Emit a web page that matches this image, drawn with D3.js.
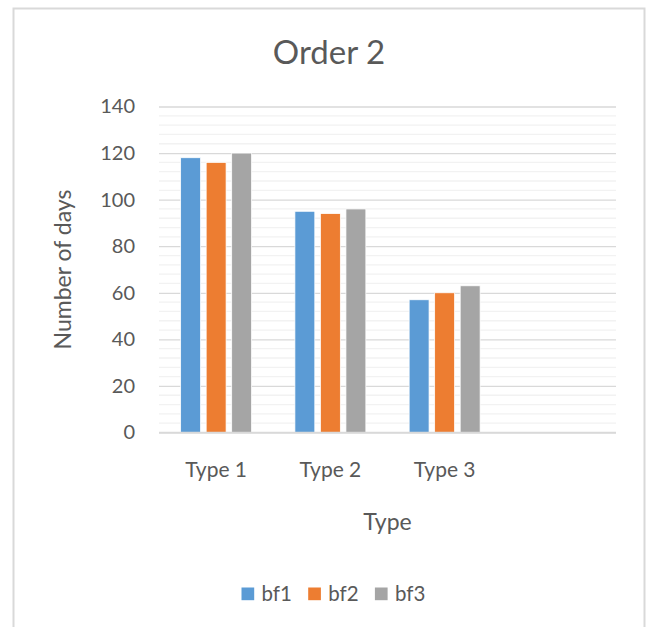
<!DOCTYPE html>
<html>
<head>
<meta charset="utf-8">
<script src="https://cdn.jsdelivr.net/npm/d3@7"></script>
<style>
  body { margin: 0; background: #fff; }
  text { font-family: Lato, "Open Sans", sans-serif; fill: #595959; }
</style>
</head>
<body>
<div id="chart"></div>
<script>
const categories = ['Type 1', 'Type 2', 'Type 3', ''];
const seriesNames = ['bf1', 'bf2', 'bf3'];
const bf1 = [118, 95, 57];
const bf2 = [116, 94, 60];
const bf3 = [120, 96, 63];
const yTicks = [0, 20, 40, 60, 80, 100, 120, 140];
const colors = ['#5b9bd5', '#ed7d31', '#a5a5a5'];

const width = 651, height = 627;
const margin = { left: 159, right: 35, top: 106.5, bottom: 194.5 };
const svg = d3.select('#chart').append('svg').attr('width', width).attr('height', height);

// chart border
svg.append('rect')
    .attr('x', 13.5).attr('y', 8.5)
    .attr('width', 631).attr('height', 640)
    .attr('fill', 'none').attr('stroke', '#d9d9d9').attr('stroke-width', 2);

const x0 = d3.scaleBand().domain(categories)
    .range([margin.left, width - margin.right])
    .paddingInner(0.379).paddingOuter(0.1895);
const x1 = d3.scaleBand().domain(seriesNames)
    .range([0, x0.bandwidth()]).paddingInner(0.22);
const y = d3.scaleLinear().domain([0, 140]).range([height - margin.bottom, margin.top]);

// minor gridlines
const minor = d3.range(0, 141, 4).filter(v => v % 20 !== 0);
svg.append('g').selectAll('line').data(minor).enter().append('line')
    .attr('x1', margin.left).attr('x2', width - margin.right)
    .attr('y1', d => y(d)).attr('y2', d => y(d))
    .attr('stroke', '#f2f2f2').attr('stroke-width', 1.3);

// major gridlines + y labels
const yAxis = d3.axisLeft(y).tickValues(yTicks).tickSize(-(width - margin.left - margin.right)).tickPadding(24);
const ya = svg.append('g').attr('transform', 'translate(' + margin.left + ',0)').call(yAxis);
ya.select('.domain').remove();
ya.selectAll('.tick line').attr('stroke', '#d9d9d9').attr('stroke-width', 1.3);
ya.selectAll('.tick text').attr('font-size', 20).style('font-family', 'Lato, sans-serif').attr('fill', '#595959');

const rows = categories.slice(0, 3).map((c, i) => ({ cat: c, values: [bf1[i], bf2[i], bf3[i]] }));

svg.append('g').selectAll('g').data(rows).enter().append('g')
    .attr('transform', d => 'translate(' + x0(d.cat) + ',0)')
    .selectAll('rect').data(d => d.values.map((v, k) => ({ key: seriesNames[k], v: v, k: k })))
    .enter().append('rect')
    .attr('x', d => x1(d.key))
    .attr('width', x1.bandwidth())
    .attr('y', d => y(d.v))
    .attr('height', d => y(0) - y(d.v))
    .attr('fill', d => colors[d.k])
    .attr('stroke', '#fff').attr('stroke-width', 0.75);

// x axis
const xAxis = d3.axisBottom(x0).tickSize(0).tickPadding(30);
const xa = svg.append('g').attr('transform', 'translate(0,' + y(0) + ')').call(xAxis);
xa.select('.domain').attr('stroke', '#d9d9d9').attr('stroke-width', 1.3)
    .attr('d', 'M' + margin.left + ',0H' + (width - margin.right));
xa.selectAll('.tick text').attr('font-size', 21).style('font-family', 'Lato, sans-serif').attr('fill', '#595959');

// titles
svg.append('text').attr('x', 329).attr('y', 64).attr('text-anchor', 'middle')
    .attr('font-size', 33).text('Order 2');
svg.append('text').attr('x', (margin.left + width - margin.right) / 2).attr('y', 530)
    .attr('text-anchor', 'middle').attr('font-size', 23).text('Type');
svg.append('text')
    .attr('transform', 'translate(71,' + (y(70)) + ') rotate(-90)')
    .attr('text-anchor', 'middle').attr('font-size', 23).text('Number of days');

// legend
const legend = svg.append('g').selectAll('g').data(seriesNames).enter().append('g')
    .attr('transform', (d, i) => 'translate(' + (241.5 + i * 66.7) + ',587.5)');
legend.append('rect').attr('width', 12.7).attr('height', 12.7).attr('fill', (d, i) => colors[i]);
legend.append('text').attr('x', 20).attr('y', 13).attr('font-size', 20.5).text(d => d);
</script>
</body>
</html>
